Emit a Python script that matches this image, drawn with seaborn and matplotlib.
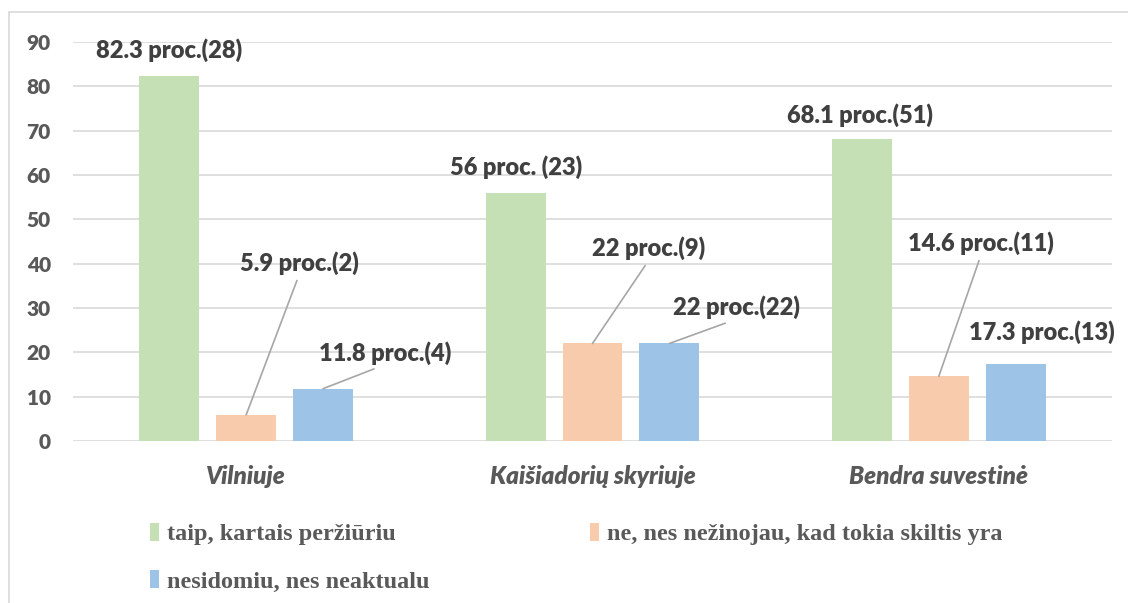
"""
Grouped bar chart: ar peržiūrite skiltį (Vilniuje / Kaišiadorių skyriuje / Bendra suvestinė)
"""

import numpy as np
import pandas as pd
import matplotlib
matplotlib.use('Agg')
import matplotlib.pyplot as plt
from matplotlib.patches import Patch
from matplotlib.lines import Line2D
import seaborn as sns

# Data
categories = ['Vilniuje', 'Kaišiadorių skyriuje', 'Bendra suvestinė']
series_names = ['taip, kartais peržiūriu',
                'ne, nes nežinojau, kad tokia skiltis yra',
                'nesidomiu, nes neaktualu']
taip_values = [82.3, 56, 68.1]
ne_values = [5.9, 22, 14.6]
nesidomiu_values = [11.8, 22, 17.3]
taip_labels = ['82.3 proc.(28)', '56 proc. (23)', '68.1 proc.(51)']
ne_labels = ['5.9 proc.(2)', '22 proc.(9)', '14.6 proc.(11)']
nesidomiu_labels = ['11.8 proc.(4)', '22 proc.(22)', '17.3 proc.(13)']
y_ticks = [0, 10, 20, 30, 40, 50, 60, 70, 80, 90]

# Styles / layout
colors = ['#C5E0B4', '#F8CBAD', '#9DC3E6']
text_dark = '#404040'
text_gray = '#595959'
grid_color = '#D9D9D9'
leader_color = '#A6A6A6'

# label placement (data coords) and whether a leader line is drawn
label_pos = [
    [(-0.223, 88.2), (0.779, 61.8), (1.773, 73.5)],
    [(0.153, 40.2), (1.163, 43.5), (2.122, 44.7)],
    [(0.401, 19.9), (1.417, 30.2), (2.298, 24.6)],
]
leaders = [
    [False, False, False],
    [True, True, True],
    [True, True, False],
]

df = pd.DataFrame({
    'kategorija': categories * 3,
    'atsakymas': np.repeat(series_names, len(categories)),
    'reiksme': taip_values + ne_values + nesidomiu_values,
})
all_labels = [taip_labels, ne_labels, nesidomiu_labels]

sns.set_style('white')
plt.rcParams['font.family'] = ['Lato', 'DejaVu Sans']

W, H = 1128, 603
fig = plt.figure(figsize=(W / 100, H / 100), dpi=100)
ax = fig.add_axes([73 / W, 1 - 441 / H, 1039 / W, 399 / H])

sns.barplot(data=df, x='kategorija', y='reiksme', hue='atsakymas',
            hue_order=series_names, order=categories, palette=colors,
            saturation=1, width=0.666, gap=0.22, linewidth=0,
            legend=False, ax=ax)

ax.set_xlim(-0.5, 2.5)
ax.set_ylim(0, 90)
ax.set_yticks(y_ticks)
ax.set_xlabel('')
ax.set_ylabel('')
ax.yaxis.grid(True, color=grid_color, linewidth=1.2)
ax.set_axisbelow(True)
for s in ax.spines.values():
    s.set_visible(False)
ax.tick_params(axis='y', length=0, pad=16, labelsize=15, labelcolor=text_gray)
ax.tick_params(axis='x', length=0, pad=17, labelcolor=text_gray)
for t in ax.get_yticklabels():
    t.set_fontweight('heavy')
for t in ax.get_xticklabels():
    t.set_fontweight('heavy')
    t.set_fontstyle('italic')
    t.set_fontsize(17.5)

# data labels
for h, container in enumerate(ax.containers):
    for i, bar in enumerate(container):
        bx = bar.get_x() + bar.get_width() / 2
        by = bar.get_height()
        lx, ly = label_pos[h][i]
        if leaders[h][i]:
            ax.annotate(all_labels[h][i], xy=(bx, by), xytext=(lx, ly),
                        ha='center', va='center', fontsize=17,
                        fontweight='heavy', color=text_dark,
                        arrowprops=dict(arrowstyle='-', color=leader_color,
                                        lw=1.2, relpos=(0.5, 0),
                                        shrinkA=2, shrinkB=0))
        else:
            ax.text(lx, ly, all_labels[h][i], ha='center', va='center',
                    fontsize=17, fontweight='heavy', color=text_dark)

# legend (row-wise order: matplotlib fills columns first)
handles = [Patch(facecolor=c, edgecolor='none') for c in colors]
order = [0, 2, 1]
fig.legend([handles[k] for k in order], [series_names[k] for k in order],
           loc='upper left', bbox_to_anchor=(140 / W, 1 - 513 / H), ncol=2,
           frameon=False,
           prop={'family': 'Liberation Serif', 'weight': 'bold', 'size': 17.5},
           labelcolor=text_gray, handlelength=0.4, handleheight=0.8,
           handletextpad=0.3, columnspacing=6.6, labelspacing=1.0,
           borderaxespad=0)

# chart border (left and top)
fig.add_artist(Line2D([9 / W, 9 / W], [0, 1 - 12 / H], color=grid_color,
                      lw=1.2, transform=fig.transFigure))
fig.add_artist(Line2D([9 / W, 1], [1 - 12 / H, 1 - 12 / H], color=grid_color,
                      lw=1.2, transform=fig.transFigure))

plt.savefig('out.png', dpi=100)
